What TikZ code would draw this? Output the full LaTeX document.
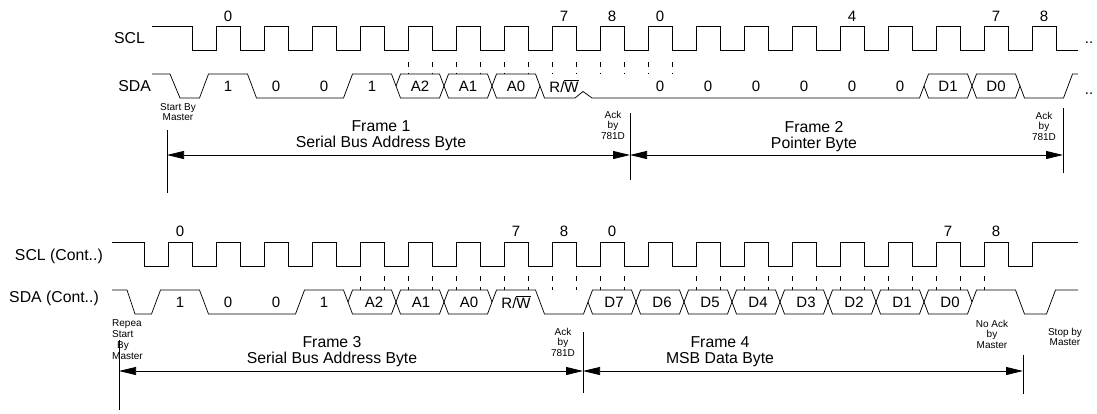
\documentclass[tikz,border=0pt]{standalone}
\usepackage{fontspec}
\setmainfont{Liberation Sans}
\usetikzlibrary{arrows.meta}
\def\sigfont{\fontsize{15.8}{16}\selectfont}
\def\bitfont{\fontsize{15}{16}\selectfont}
\def\notefont{\fontsize{10}{10.5}\selectfont}
\def\rwbar{R/$\overline{\mbox{W}}$}

\tikzset{
  wave/.style={line width=0.75pt},
  edgetick/.style={line width=0.6pt, dash pattern=on 5pt off 5.5pt},
  bitlabel/.style={font=\bitfont, inner sep=0pt},
  signame/.style={font=\sigfont, inner sep=0pt, anchor=east},
  note/.style={font=\notefont, align=center, inner sep=0pt},
  framelabel/.style={font=\sigfont, align=center, inner sep=0pt},
  markline/.style={line width=0.75pt},
  framespan/.style={line width=0.75pt, {Triangle[length=17pt,width=8pt]}-{Triangle[length=17pt,width=8pt]}}
}

\begin{document}
\begin{tikzpicture}[x=1pt,y=-1pt]
		\useasboundingbox (0,0) rectangle (1097,413);
		%%%%% FRAMES 1 AND 2 %%%%%
		\node[signame] (scl) at (145,38) {SCL};
		\node[signame] (sda) at (151,86) {SDA};
		
		\draw[wave] (152,26) -- (192,26) -- (192,50)
			\foreach \k in {0,...,17} { -- ({216+48*\k},50) -- ({216+48*\k},26) -- ({240+48*\k},26) -- ({240+48*\k},50) }
			-- (1078,50);
		
		\node[bitlabel] (cka0) at (228,16) {0};
		\node[bitlabel] (cka7) at (564,16) {7};
		\node[bitlabel] (cka8) at (612,16) {8};
		\node[bitlabel] (ckb0) at (660,16) {0};
		\node[bitlabel] (ckb4) at (852,16) {4};
		\node[bitlabel] (ckb7) at (996,16) {7};
		\node[bitlabel] (ckb8) at (1044,16) {8};
		\node[bitlabel, anchor=base] (sclmore) at (1089,43) {..};
		
		\foreach \k in {4,...,9} {
			\draw[edgetick] ({216+48*\k},62) -- ({216+48*\k},74);
			\draw[edgetick] ({240+48*\k},62) -- ({240+48*\k},74);
		}
		
		\draw[wave] (152,74) -- (170,74) -- (180,98) -- (199.5,98) -- (208.5,74) -- (247.5,74) -- (256.5,98)
			-- (343.5,98) -- (352.5,74) -- (391.5,74) -- (400.5,98) -- (439.5,98) -- (448.5,74) -- (487.5,74)
			-- (496.5,98) -- (535.5,98) -- (540,86) -- (544.5,98) -- (575,98) -- (583,91.5) -- (592,98)
			-- (919.5,98) -- (928.5,74) -- (967.5,74) -- (976.5,98) -- (1015.5,98) -- (1020,86) -- (1024.5,98)
			-- (1063.5,98) -- (1072.5,74) -- (1078,74);
		\draw[wave] (396,86) -- (400.5,74) -- (439.5,74) -- (448.5,98) -- (487.5,98) -- (496.5,74) -- (535.5,74) -- (540,86);
		\draw[wave] (924,86) -- (928.5,98) -- (967.5,98) -- (976.5,74) -- (1015.5,74) -- (1020,86);
		
		\node[bitlabel] (sa0) at (228,86) {1};
		\node[bitlabel] (sa1) at (276,86) {0};
		\node[bitlabel] (sa2) at (324,86) {0};
		\node[bitlabel] (sa3) at (372,86) {1};
		\node[bitlabel] (sa4) at (420,86) {A2};
		\node[bitlabel] (sa5) at (468,86) {A1};
		\node[bitlabel] (sa6) at (516,86) {A0};
		\node[bitlabel] (sa7) at (564,86) {\rwbar};
		\node[bitlabel] (sb0) at (660,86) {0};
		\node[bitlabel] (sb1) at (708,86) {0};
		\node[bitlabel] (sb2) at (756,86) {0};
		\node[bitlabel] (sb3) at (804,86) {0};
		\node[bitlabel] (sb4) at (852,86) {0};
		\node[bitlabel] (sb5) at (900,86) {0};
		\node[bitlabel] (sb6) at (948,86) {D1};
		\node[bitlabel] (sb7) at (996,86) {D0};
		\node[bitlabel, anchor=base] (sdamore) at (1089,94) {..};
		
		\draw[markline] (167,130) -- (167,193);
		\draw[markline] (630,113) -- (630,180);
		\draw[markline] (1063,108) -- (1063,173);
		\coordinate (fa) at (167,155);
		\coordinate (fb) at (630,155);
		\coordinate (fc) at (1063,155);
		\draw[framespan] (fa) -- (fb);
		\draw[framespan] (fb) -- (fc);
		
		\node[note] (startm) at (178,112) {Start By\\Master};
		\node[note] (acka) at (613,125) {Ack\\by\\781D};
		\node[note] (ackb) at (1044,126) {Ack\\by\\781D};
		\node[framelabel] (frame1) at (381,136) {Frame 1\\Serial Bus Address Byte};
		\node[framelabel] (frame2) at (814,137) {Frame 2\\Pointer Byte};
		
		%%%%% FRAMES 3 AND 4 %%%%%
		\node[signame] (sclc) at (103,256) {SCL (Cont..)};
		\node[signame] (sdac) at (99,298) {SDA (Cont..)};
		
		\draw[wave] (112,242) -- (144,242) -- (144,266)
			\foreach \k in {0,...,17} { -- ({168+48*\k},266) -- ({168+48*\k},242) -- ({192+48*\k},242) -- ({192+48*\k},266) }
			-- (1032,266) -- (1032,242) -- (1078,242);
		
		\node[bitlabel] (ckc0) at (180,231) {0};
		\node[bitlabel] (ckc7) at (516,231) {7};
		\node[bitlabel] (ckc8) at (564,231) {8};
		\node[bitlabel] (ckd0) at (612,231) {0};
		\node[bitlabel] (ckd7) at (948,231) {7};
		\node[bitlabel] (ckd8) at (996,231) {8};
		
		\foreach \k in {4,...,9,11,12,13,14,15,16} {
			\draw[edgetick] ({168+48*\k},276) -- ({168+48*\k},290);
			\draw[edgetick] ({192+48*\k},276) -- ({192+48*\k},290);
		}
		\draw[edgetick] (984,276) -- (984,290);
		
		\draw[wave] (112,290) -- (127,290) -- (135,314) -- (151.5,314) -- (160.5,290) -- (199.5,290) -- (208.5,314)
			-- (295.5,314) -- (304.5,290) -- (343.5,290) -- (352.5,314) -- (391.5,314) -- (400.5,290) -- (439.5,290)
			-- (448.5,314) -- (487.5,314) -- (496.5,290) -- (535.5,290) -- (544.5,314) -- (583.5,314) -- (592.5,290)
			-- (631.5,290) -- (640.5,314) -- (679.5,314) -- (688.5,290) -- (727.5,290) -- (736.5,314) -- (775.5,314)
			-- (784.5,290) -- (823.5,290) -- (832.5,314) -- (871.5,314) -- (880.5,290) -- (919.5,290) -- (928.5,314)
			-- (967.5,314) -- (976.5,290) -- (1015.5,290) -- (1024.5,314) -- (1046.5,314) -- (1055.5,290) -- (1078,290);
		\draw[wave] (348,302) -- (352.5,290) -- (391.5,290) -- (400.5,314) -- (439.5,314) -- (448.5,290) -- (487.5,290) -- (492,302);
		\draw[wave] (588,302) -- (592.5,314) -- (631.5,314) -- (640.5,290) -- (679.5,290) -- (688.5,314) -- (727.5,314)
			-- (736.5,290) -- (775.5,290) -- (784.5,314) -- (823.5,314) -- (832.5,290) -- (871.5,290) -- (880.5,314)
			-- (919.5,314) -- (928.5,290) -- (967.5,290) -- (972,302);
		
		\node[bitlabel] (sc0) at (180,302) {1};
		\node[bitlabel] (sc1) at (228,302) {0};
		\node[bitlabel] (sc2) at (276,302) {0};
		\node[bitlabel] (sc3) at (324,302) {1};
		\node[bitlabel] (sc4) at (374,302) {A2};
		\node[bitlabel] (sc5) at (421,302) {A1};
		\node[bitlabel] (sc6) at (469,302) {A0};
		\node[bitlabel] (sc7) at (516,302) {\rwbar};
		\node[bitlabel] (sd0) at (614,302) {D7};
		\node[bitlabel] (sd1) at (662,302) {D6};
		\node[bitlabel] (sd2) at (710,302) {D5};
		\node[bitlabel] (sd3) at (758,302) {D4};
		\node[bitlabel] (sd4) at (806,302) {D3};
		\node[bitlabel] (sd5) at (854,302) {D2};
		\node[bitlabel] (sd6) at (902,302) {D1};
		\node[bitlabel] (sd7) at (950,302) {D0};
		
		\draw[markline] (119,340) -- (119,410);
		\draw[markline] (583,332) -- (583,393);
		\draw[markline] (1023,355) -- (1023,394);
		\coordinate (fd) at (119,371);
		\coordinate (fe) at (583,371);
		\coordinate (ff) at (1023,371);
		\draw[framespan] (fd) -- (fe);
		\draw[framespan] (fe) -- (ff);
		
		\node[note, align=left, anchor=west, font=\fontsize{10}{11}\selectfont] (rstart) at (112,339.5) {Repea\\Start\\\hspace*{5pt}By\\Master};
		\node[note] (ackc) at (563,342) {Ack\\by\\781D};
		\node[note] (noack) at (992,334) {No Ack\\by\\Master};
		\node[note] (stopm) at (1065,337) {Stop by\\Master};
		\node[framelabel] (frame3) at (332,352) {Frame 3\\Serial Bus Address Byte};
		\node[framelabel] (frame4) at (720,352) {Frame 4\\MSB Data Byte};
		%%%%% END %%%%%
	\end{tikzpicture}
\end{document}
